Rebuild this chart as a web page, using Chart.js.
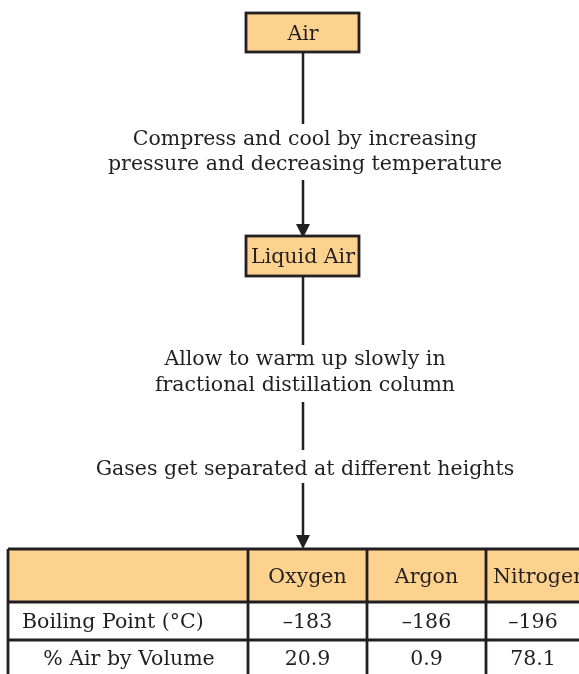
<!DOCTYPE html>
<html>
<head>
<meta charset="utf-8">
<script src="https://cdn.jsdelivr.net/npm/chart.js@4.4.1/dist/chart.umd.min.js"></script>
<style>
  body { margin: 0; background: #fff; }
  #wrap { width: 579px; height: 674px; }
</style>
</head>
<body>
<div id="wrap"><canvas id="flowChart" width="579" height="674"></canvas></div>
<script>
// data
const steps = ['Air', 'Liquid Air'];
const stepNotes = [
    ['Compress and cool by increasing', 'pressure and decreasing temperature'],
    ['Allow to warm up slowly in', 'fractional distillation column'],
    ['Gases get separated at different heights']
];
const gases = ['Oxygen', 'Argon', 'Nitrogen'];
const rowLabels = ['Boiling Point (°C)', '% Air by Volume'];
const boilingPoints = [-183, -186, -196];
const airByVolume = [20.9, 0.9, 78.1];

const PEACH = '#fdd18e';
const INK = '#231f20';
const FONT = '20.5px "DejaVu Serif", "Liberation Serif", serif';

function fmt(v) {
    return v < 0 ? '\u2013' + Math.abs(v) : String(v);
}

const flowPlugin = {
    id: 'flow',
    afterDraw(chart) {
        const ctx = chart.ctx;
        const sx = v => chart.scales.x.getPixelForValue(v);
        const sy = v => chart.scales.y.getPixelForValue(v);
        const cx = 303;

        ctx.save();
        ctx.strokeStyle = INK;
        ctx.fillStyle = INK;
        ctx.font = FONT;
        ctx.textBaseline = 'middle';

        // connectors
        const segs = [[52, 124, false], [180, 238, true], [276, 345, false], [402, 450, false], [483, 549, true]];
        segs.forEach(s => {
            ctx.lineWidth = 2.5;
            ctx.beginPath();
            ctx.moveTo(sx(cx), sy(s[0]));
            ctx.lineTo(sx(cx), sy(s[2] ? s[1] - 12 : s[1]));
            ctx.stroke();
            if (s[2]) {
                ctx.beginPath();
                ctx.moveTo(sx(cx - 7), sy(s[1] - 14));
                ctx.lineTo(sx(cx + 7), sy(s[1] - 14));
                ctx.lineTo(sx(cx), sy(s[1]));
                ctx.closePath();
                ctx.fill();
            }
        });

        // boxes
        const boxY = [[13, 52], [236, 276]];
        steps.forEach((label, i) => {
            const x0 = sx(246), x1 = sx(359), y0 = sy(boxY[i][0]), y1 = sy(boxY[i][1]);
            ctx.fillStyle = PEACH;
            ctx.fillRect(x0, y0, x1 - x0, y1 - y0);
            ctx.lineWidth = 2.8;
            ctx.strokeRect(x0, y0, x1 - x0, y1 - y0);
            ctx.fillStyle = INK;
            ctx.textAlign = 'center';
            ctx.fillText(label, sx(cx), (y0 + y1) / 2 + 2);
        });

        // captions
        const noteY = [[139.5, 164.5], [359.5, 385.5], [469.5]];
        ctx.textAlign = 'center';
        stepNotes.forEach((lines, i) => {
            lines.forEach((t, j) => ctx.fillText(t, sx(cx + 2), sy(noteY[i][j])));
        });

        // table
        const colX = [8, 248, 367, 486, 600];
        const rowY = [549, 602, 640, 700];
        ctx.fillStyle = PEACH;
        ctx.fillRect(sx(colX[0]), sy(rowY[0]), sx(colX[4]) - sx(colX[0]), sy(rowY[1]) - sy(rowY[0]));
        ctx.lineWidth = 2.8;
        ctx.beginPath();
        rowY.forEach(y => { ctx.moveTo(sx(colX[0]), sy(y)); ctx.lineTo(sx(colX[4]), sy(y)); });
        colX.forEach(x => { ctx.moveTo(sx(x), sy(rowY[0])); ctx.lineTo(sx(x), sy(rowY[3])); });
        ctx.stroke();

        ctx.fillStyle = INK;
        const colMid = i => (colX[i + 1] + colX[i]) / 2;
        gases.forEach((g, i) => {
            const mx = i === 2 ? 533 : colMid(i + 1);
            if (i === 2) {
                ctx.textAlign = 'left';
                ctx.fillText(g, sx(493), sy(577.5));
            } else {
                ctx.textAlign = 'center';
                ctx.fillText(g, sx(mx), sy(577.5));
            }
            ctx.textAlign = 'center';
            ctx.fillText(fmt(boilingPoints[i]), sx(mx), sy(622.5));
            ctx.fillText(fmt(airByVolume[i]), sx(mx), sy(659.5));
        });
        ctx.textAlign = 'left';
        ctx.fillText(rowLabels[0], sx(22), sy(622.5));
        ctx.textAlign = 'center';
        ctx.fillText(rowLabels[1], sx(129), sy(659.5));
        ctx.restore();
    }
};

new Chart(document.getElementById('flowChart').getContext('2d'), {
    type: 'scatter',
    data: { datasets: [{ data: [], pointRadius: 0 }] },
    options: {
        responsive: false,
        animation: false,
        layout: { padding: 0 },
        plugins: { legend: { display: false }, tooltip: { enabled: false } },
        scales: {
            x: { type: 'linear', min: 0, max: 579, display: false },
            y: { type: 'linear', min: 0, max: 674, reverse: true, display: false }
        }
    },
    plugins: [flowPlugin]
});
</script>
</body>
</html>
